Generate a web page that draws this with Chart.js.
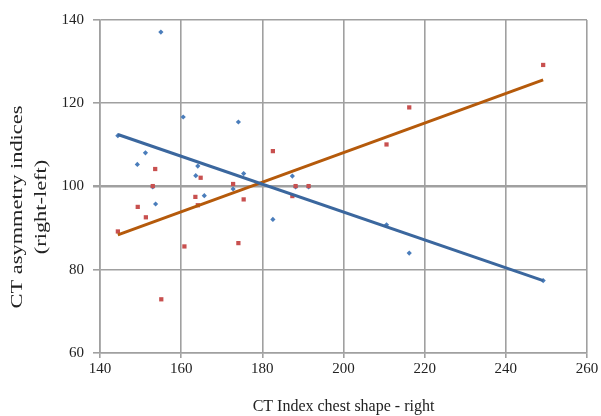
<!DOCTYPE html>
<html>
<head>
<meta charset="utf-8">
<script src="https://cdn.jsdelivr.net/npm/chart.js@4"></script>
<style>
  html, body { margin: 0; padding: 0; background: #fff; }
  #wrap { width: 601px; height: 416px; }
</style>
</head>
<body>
<div id="wrap"><canvas id="chart" width="601" height="416"></canvas></div>
<script>
// values
const xTicks = [140, 160, 180, 200, 220, 240, 260];
const yTicks = [60, 80, 100, 120, 140];

const blueX = [144.4, 149.2, 151.2, 153.0, 153.7, 155.0, 160.5, 163.6, 164.1, 165.7, 172.8, 174.1, 175.4, 182.6, 187.4, 188.2, 191.4, 210.6, 216.2, 249.2];
const blueY = [112.2, 105.3, 108.1, 99.9, 95.8, 137.1, 116.7, 102.6, 104.9, 97.8, 99.4, 115.5, 103.1, 92.1, 102.5, 99.9, 99.9, 90.8, 84.0, 77.4];

const redX = [144.4, 149.3, 151.3, 153.0, 153.6, 155.1, 160.8, 163.5, 164.1, 164.8, 172.8, 174.1, 175.4, 182.6, 187.4, 188.2, 191.4, 210.6, 216.2, 249.2];
const redY = [89.2, 95.1, 92.6, 100.1, 104.2, 72.9, 85.6, 97.5, 95.5, 102.1, 100.6, 86.4, 96.9, 108.5, 97.7, 100.1, 100.1, 110.1, 119.0, 129.2];

// trendline end points
const blueTrendX = [144.4, 249.2];
const blueTrendY = [112.5, 77.4];
const redTrendX = [144.4, 249.2];
const redTrendY = [88.4, 125.6];

const xTitle = 'CT Index chest shape - right';
const yTitle = ['CT asymmetry indices', '(right-left)'];

const pts = (xs, ys) => xs.map((x, i) => ({ x: x, y: ys[i] }));
const serif = '"Liberation Serif", "Times New Roman", serif';

// y title drawn by hand: it sits below the plot middle and looks stretched lengthwise
const yTitlePlugin = {
    id: 'yTitle',
    afterDraw(chart) {
        const ctx = chart.ctx;
        ctx.save();
        ctx.fillStyle = '#222';
        ctx.font = '16px ' + serif;
        ctx.textAlign = 'center';
        ctx.textBaseline = 'middle';
        ctx.translate(0, 207);
        ctx.rotate(-Math.PI / 2);
        ctx.scale(1.4, 1);
        ctx.fillText(yTitle[0], 0, 18);
        ctx.fillText(yTitle[1], 0, 42);
        ctx.restore();
    }
};

new Chart(document.getElementById('chart'), {
    type: 'scatter',
    data: {
        datasets: [
            { data: pts(blueTrendX, blueTrendY), type: 'line', borderColor: '#3b679e', borderWidth: 3, pointRadius: 0, fill: false, order: 0 },
            { data: pts(redTrendX, redTrendY), type: 'line', borderColor: '#b55a0b', borderWidth: 3, pointRadius: 0, fill: false, order: 0 },
            { data: pts(redX, redY), pointStyle: 'rect', pointRadius: 3, backgroundColor: '#c8504f', borderColor: '#c8504f', borderWidth: 0, order: 1 },
            { data: pts(blueX, blueY), pointStyle: 'rectRot', pointRadius: 2.6, backgroundColor: '#4a7dbb', borderColor: '#4a7dbb', borderWidth: 0, order: 2 }
        ]
    },
    options: {
        responsive: false,
        animation: false,
        layout: { padding: { top: 20, right: 14, left: 0, bottom: 0 } },
        plugins: { legend: { display: false }, tooltip: { enabled: false } },
        scales: {
            x: {
                type: 'linear', min: 140, max: 260,
                afterBuildTicks: s => { s.ticks = xTicks.map(v => ({ value: v })); },
                afterFit: s => { s.height = 63; },
                grid: { color: '#a0a0a0', lineWidth: 1.6, tickLength: 5, drawTicks: true },
                border: { color: '#a0a0a0', width: 1.6 },
                ticks: { color: '#222', font: { family: serif, size: 15 }, padding: 2, maxRotation: 0 },
                title: { display: true, text: xTitle, color: '#222', font: { family: serif, size: 16 }, padding: { top: 14, bottom: 0 } }
            },
            y: {
                type: 'linear', min: 60, max: 140,
                afterBuildTicks: s => { s.ticks = yTicks.map(v => ({ value: v })); },
                afterFit: s => { s.width = 100; },
                grid: {
                    color: '#a0a0a0', tickLength: 7,
                    lineWidth: c => (c.tick && c.tick.value === 100 ? 2.5 : 1.6)
                },
                border: { color: '#a0a0a0', width: 1.6 },
                ticks: { color: '#222', font: { family: serif, size: 15 }, padding: 9 }
            }
        }
    },
    plugins: [yTitlePlugin]
});
</script>
</body>
</html>
